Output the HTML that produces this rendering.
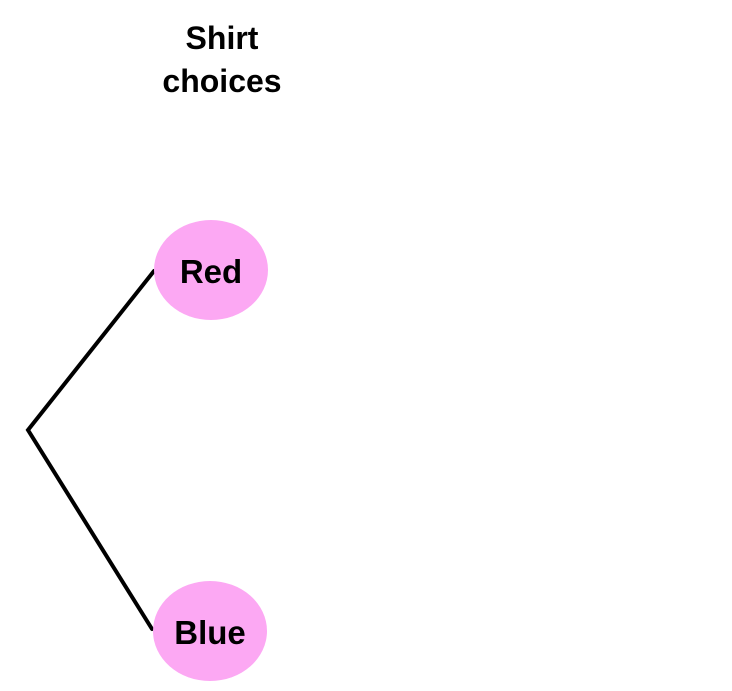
<!DOCTYPE html>
<html><head><style>
html,body{margin:0;padding:0;background:#fff;}
body{width:732px;height:691px;overflow:hidden;position:relative;}
</style></head><body>
<svg width="732" height="691" xmlns="http://www.w3.org/2000/svg" style="position:absolute;left:0;top:0">
<text x="222" y="49" text-anchor="middle" font-family="Liberation Sans, sans-serif" font-weight="bold" font-size="32">Shirt</text>
<text x="222" y="92" text-anchor="middle" font-family="Liberation Sans, sans-serif" font-weight="bold" font-size="32">choices</text>
<polyline points="154,271 28,430 152,629" fill="none" stroke="#000" stroke-width="4" stroke-linecap="round"/>
<ellipse cx="211" cy="270" rx="57" ry="50" fill="#fca8f3"/>
<ellipse cx="210" cy="631" rx="57" ry="50" fill="#fca8f3"/>
<text x="211" y="283" text-anchor="middle" font-family="Liberation Sans, sans-serif" font-weight="bold" font-size="33">Red</text>
<text x="210" y="644" text-anchor="middle" font-family="Liberation Sans, sans-serif" font-weight="bold" font-size="33">Blue</text>
</svg>
</body></html>
